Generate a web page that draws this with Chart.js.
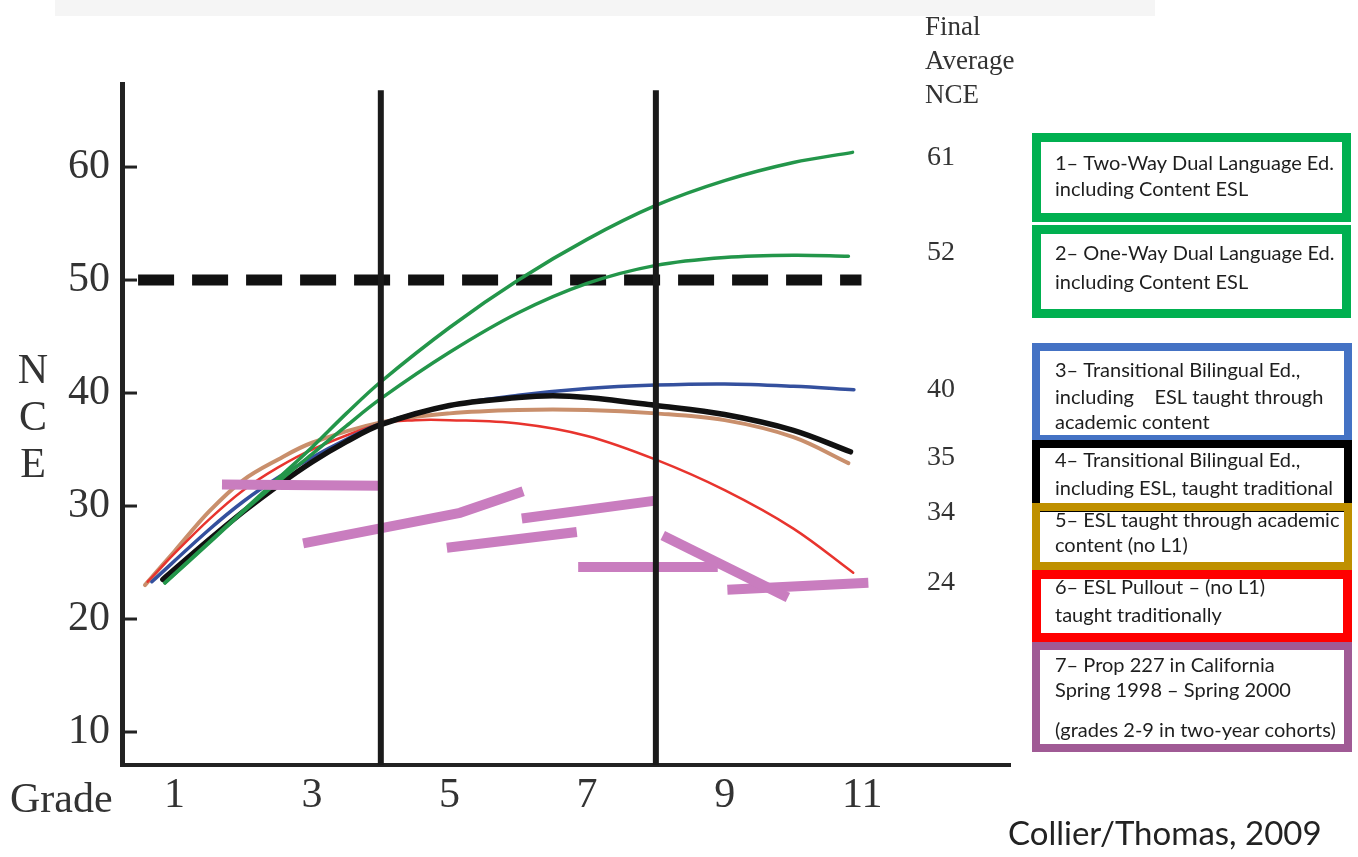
<!DOCTYPE html>
<html>
<head>
<meta charset="utf-8">
<script src="https://cdn.jsdelivr.net/npm/chart.js@4.4.0/dist/chart.umd.min.js"></script>
<style>
  html, body { margin: 0; background: #fff; }
  #wrap { width: 1358px; height: 857px; position: relative; }
</style>
</head>
<body>
<div id="wrap"><canvas id="nceChart"></canvas></div>
<script>
// ---------- DATA ----------
const gradeTicks = [1, 3, 5, 7, 9, 11];
const nceTicks = [10, 20, 30, 40, 50, 60];

const twoWayGrades = [0.86, 1.5, 2, 2.5, 3, 3.5, 4, 5, 6, 7, 8, 9, 10, 10.86];
const twoWayNce    = [23.2, 26.8, 29.6, 32.4, 35.2, 38.2, 41.0, 45.8, 50.0, 53.6, 56.6, 58.8, 60.4, 61.3];

const oneWayGrades = [0.86, 1.5, 2, 2.5, 3, 3.5, 4, 5, 6, 7, 8, 9, 10, 10.8];
const oneWayNce    = [23.2, 26.7, 29.5, 32.1, 34.6, 37.1, 39.5, 43.6, 47.1, 49.7, 51.3, 52.0, 52.2, 52.1];

const tbeContentGrades = [0.67, 1.5, 2, 2.5, 3, 3.5, 4, 5, 6, 7, 8, 9, 10, 10.88];
const tbeContentNce    = [23.3, 27.9, 30.4, 32.5, 34.3, 35.9, 37.3, 38.9, 39.8, 40.4, 40.7, 40.8, 40.6, 40.3];

const tbeTradGrades = [0.83, 1.5, 2, 2.5, 3, 3.5, 4, 5, 6, 6.5, 7, 8, 9, 10, 10.83];
const tbeTradNce    = [23.5, 27.0, 29.5, 31.8, 33.9, 35.7, 37.2, 38.9, 39.6, 39.75, 39.6, 38.9, 38.1, 36.7, 34.8];

const eslContentGrades = [0.57, 1, 1.5, 2, 2.5, 3, 4, 5, 6, 7, 8, 9, 10, 10.8];
const eslContentNce    = [23.0, 26.0, 29.5, 32.3, 34.1, 35.6, 37.4, 38.2, 38.5, 38.5, 38.2, 37.6, 36.1, 33.8];

const pulloutGrades = [0.61, 1, 1.5, 2, 2.5, 3, 4, 4.5, 5, 6, 7, 8, 9, 10, 10.87];
const pulloutNce    = [23.3, 25.8, 28.8, 31.4, 33.4, 35.0, 37.3, 37.6, 37.6, 37.3, 36.2, 34.1, 31.4, 28.0, 24.1];

// Prop 227 two-year cohort segments: [grade, NCE] pairs
const prop227Segments = [
  [[1.69, 31.9], [4.0, 31.8]],
  [[2.87, 26.7], [5.15, 29.4], [6.07, 31.3]],
  [[4.96, 26.3], [6.85, 27.7]],
  [[6.05, 28.9], [8.02, 30.5]],
  [[6.87, 24.6], [8.9, 24.6]],
  [[8.1, 27.4], [9.92, 21.9]],
  [[9.04, 22.6], [11.09, 23.2]]
];

const nationalMean = 50;
const meanLineGrades = [0.47, 10.99];
const phaseLineGrades = [4, 8];

const finalLabels = ['61', '52', '40', '35', '34', '24'];
const finalLabelY = [155, 250, 387, 455, 510, 580];

const legendLines = [
  ['1\u2013 Two-Way Dual Language Ed.', 'including Content ESL'],
  ['2\u2013 One-Way Dual Language Ed.', 'including Content ESL'],
  ['3\u2013 Transitional Bilingual Ed.,', 'including    ESL taught through', 'academic content'],
  ['4\u2013 Transitional Bilingual Ed.,', 'including ESL, taught traditional'],
  ['5\u2013 ESL taught through academic', 'content (no L1)'],
  ['6\u2013 ESL Pullout \u2013 (no L1)', 'taught traditionally'],
  ['7\u2013 Prop 227 in California', 'Spring 1998 \u2013 Spring 2000', '(grades 2-9 in two-year cohorts)']
];

// ---------- HELPERS ----------
const yMin = 7.08, yMax = 67.35;
const xMin = 0.236, xMax = 13.15;
const zip = (gs, vs) => gs.map((g, i) => ({ x: g, y: vs[i] }));

function curve(data, color, width) {
  return { data, borderColor: color, borderWidth: width, pointRadius: 0,
           fill: false, tension: 0.35, borderCapStyle: 'round' };
}
function straight(data, color, width, dash) {
  return { data, borderColor: color, borderWidth: width, pointRadius: 0,
           fill: false, tension: 0, borderDash: dash || [], borderCapStyle: 'butt' };
}

const datasets = [];
phaseLineGrades.forEach(g => datasets.push(straight([{ x: g, y: yMin }, { x: g, y: 66.8 }], '#1a1a1a', 6)));
prop227Segments.forEach(seg => datasets.push(straight(seg.map(p => ({ x: p[0], y: p[1] })), '#c97dbf', 10)));
datasets.push(curve(zip(twoWayGrades, twoWayNce), '#23964a', 3.5));
datasets.push(curve(zip(oneWayGrades, oneWayNce), '#23964a', 3.5));
datasets.push(curve(zip(tbeTradGrades, tbeTradNce), '#111111', 5.5));
datasets.push(curve(zip(tbeContentGrades, tbeContentNce), '#34509e', 3.5));
datasets.push(curve(zip(pulloutGrades, pulloutNce), '#e8342e', 2.5));
datasets.push(curve(zip(eslContentGrades, eslContentNce), '#c98f6c', 4));
datasets.push(straight(meanLineGrades.map(g => ({ x: g, y: nationalMean })), '#111111', 11, [36, 18]));

// ---------- EXTRA DRAWING ----------
const serif = '"Liberation Serif", "Times New Roman", serif';
const sans = 'Lato, "Open Sans", sans-serif';

const boxes = [
  { color: '#00b050', x: 1032, y: 133, w: 319, h: 89, lw: 9 },
  { color: '#00b050', x: 1032, y: 225, w: 319, h: 93, lw: 9 },
  { color: '#4472c4', x: 1032, y: 343, w: 320, h: 100, lw: 8 },
  { color: '#000000', x: 1032, y: 440, w: 320, h: 72, lw: 8 },
  { color: '#bf9000', x: 1032, y: 503, w: 320, h: 67, lw: 8 },
  { color: '#ff0000', x: 1032, y: 570, w: 320, h: 72, lw: 9 },
  { color: '#a05a95', x: 1032, y: 642, w: 320, h: 110, lw: 8 }
];
const textBaselines = [
  [170, 196], [260, 289], [377, 404, 429], [467, 495], [527, 552], [594, 622], [672, 697, 737]
];

const extras = {
  id: 'extras',
  beforeDraw(chart) {
    const ctx = chart.ctx;
    ctx.save();
    ctx.fillStyle = '#f5f5f5';
    ctx.fillRect(55, 0, 1100, 16);
    ctx.restore();
  },
  afterDraw(chart) {
    const ctx = chart.ctx;
    const y = chart.scales.y;
    const left = chart.chartArea.left;
    ctx.save();

    // inside tick marks on the NCE axis
    ctx.strokeStyle = '#222';
    ctx.lineWidth = 3;
    nceTicks.forEach(v => {
      const py = y.getPixelForValue(v);
      ctx.beginPath(); ctx.moveTo(left, py); ctx.lineTo(left + 15, py); ctx.stroke();
    });

    // axis words
    ctx.fillStyle = '#333';
    ctx.font = '42px ' + serif;
    ctx.textAlign = 'center';
    ctx.textBaseline = 'middle';
    ['N', 'C', 'E'].forEach((ch, i) => ctx.fillText(ch, 33, 372 + i * 47));
    ctx.textAlign = 'left';
    ctx.textBaseline = 'alphabetic';
    ctx.fillText('Grade', 10, 812);

    // final average column
    ctx.font = '27px ' + serif;
    ctx.fillStyle = '#333';
    ['Final', 'Average', 'NCE'].forEach((t, i) => ctx.fillText(t, 925, 35 + i * 34));
    ctx.font = '28px ' + serif;
    finalLabels.forEach((t, i) => ctx.fillText(t, 927, finalLabelY[i] + 10));

    // legend boxes
    boxes.forEach((b, i) => {
      ctx.save();
      ctx.beginPath();
      ctx.rect(b.x + b.lw, b.y, b.w - 2 * b.lw, b.h);
      ctx.clip();
      ctx.fillStyle = '#1e1e1e';
      ctx.font = '20px ' + sans;
      legendLines[i].forEach((t, j) => ctx.fillText(t, 1055, textBaselines[i][j]));
      ctx.restore();
      ctx.strokeStyle = b.color;
      ctx.lineWidth = b.lw;
      ctx.strokeRect(b.x + b.lw / 2, b.y + b.lw / 2, b.w - b.lw, b.h - b.lw);
    });

    // source
    ctx.fillStyle = '#222';
    ctx.font = '33px ' + sans;
    ctx.fillText('Collier/Thomas, 2009', 1008, 845);
    ctx.restore();
  }
};

// ---------- CHART ----------
new Chart(document.getElementById('nceChart'), {
  type: 'line',
  data: { datasets },
  options: {
    responsive: true,
    maintainAspectRatio: false,
    animation: false,
    layout: { padding: { top: 84, right: 348, left: 0, bottom: 0 } },
    plugins: { legend: { display: false }, tooltip: { enabled: false } },
    scales: {
      x: {
        type: 'linear', min: xMin, max: xMax,
        afterBuildTicks: s => { s.ticks = gradeTicks.map(v => ({ value: v })); },
        afterFit: s => { s.height = 92; },
        grid: { display: false, drawTicks: false },
        border: { color: '#222', width: 4 },
        ticks: { color: '#333', font: { family: serif, size: 42 }, padding: 6, maxRotation: 0, autoSkip: false }
      },
      y: {
        type: 'linear', min: yMin, max: yMax,
        afterBuildTicks: s => { s.ticks = nceTicks.map(v => ({ value: v })); },
        afterFit: s => { s.width = 122; },
        grid: { display: false, drawTicks: false },
        border: { color: '#222', width: 5 },
        ticks: { color: '#333', font: { family: serif, size: 42 }, padding: 12 }
      }
    }
  },
  plugins: [extras]
});
</script>
</body>
</html>
